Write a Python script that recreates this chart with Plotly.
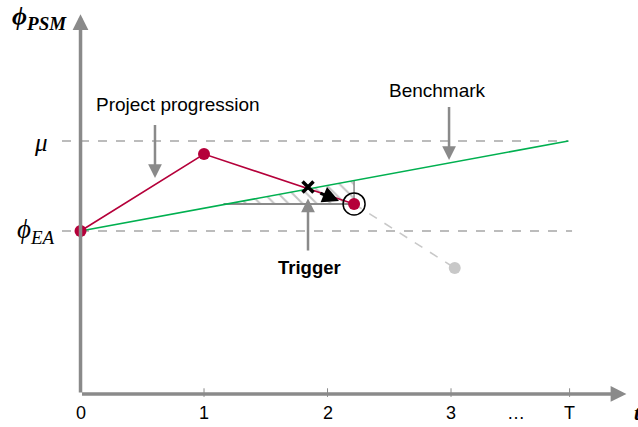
import plotly.graph_objects as go

# ---- data (abstract units: phi_EA = 1) ----
phi_ea = 1.0
mu = 1.552
t_end = 3.95            # position of T on the time axis
progress_t = [0, 1, 2.215]
progress_v = [1.0, 1.472, 1.166]
forecast_t = [2.215, 3.03]
forecast_v = [1.166, 0.773]
bench_t = [0, t_end]
bench_v = [phi_ea, mu]
trigger_t, trigger_v = 1.842, 1.27
tick_vals = [0, 1, 2, 3, 3.53, 3.96]
tick_text = ["0", "1", "2", "3", "…", "T"]

RED = "#b5003a"
GREEN = "#00b050"
GREY = "#8a8a8a"
DGREY = "#a6a6a6"
LGREY = "#c8c8c8"

slope = (mu - phi_ea) / t_end
hx0 = (progress_v[2] - phi_ea) / slope
hx1 = progress_t[2]
hy = progress_v[2]
hy_top = phi_ea + slope * hx1

fig = go.Figure()

# dashed reference lines
fig.add_trace(go.Scatter(x=[-0.15, t_end], y=[mu, mu], mode="lines",
                         line=dict(color=DGREY, width=1.5, dash="dash"), hoverinfo="skip"))
fig.add_trace(go.Scatter(x=[-0.15, 3.98], y=[phi_ea, phi_ea], mode="lines",
                         line=dict(color=DGREY, width=1.5, dash="dash"), hoverinfo="skip"))

# hatched area
fig.add_trace(go.Scatter(x=[hx0, hx1, hx1, hx0], y=[hy, hy, hy_top, hy], mode="lines",
                         fill="toself", fillcolor="rgba(0,0,0,0)",
                         fillpattern=dict(shape="\\", fgcolor=GREY, size=10, solidity=0.2,
                                          bgcolor="rgba(0,0,0,0)"),
                         line=dict(width=0), hoverinfo="skip"))
# horizontal and vertical grey lines of the triangle
fig.add_trace(go.Scatter(x=[hx0 - 0.03, hx1], y=[hy, hy], mode="lines",
                         line=dict(color=GREY, width=2), hoverinfo="skip"))
fig.add_trace(go.Scatter(x=[hx1, hx1], y=[hy, hy_top], mode="lines",
                         line=dict(color=GREY, width=1.5), hoverinfo="skip"))

# forecast (light grey dashed)
fig.add_trace(go.Scatter(x=forecast_t, y=forecast_v, mode="lines",
                         line=dict(color=LGREY, width=1.5, dash="dash"), hoverinfo="skip"))
fig.add_trace(go.Scatter(x=[forecast_t[1]], y=[forecast_v[1]], mode="markers",
                         marker=dict(color=LGREY, size=12), hoverinfo="skip"))

# benchmark
fig.add_trace(go.Scatter(x=bench_t, y=bench_v, mode="lines",
                         line=dict(color=GREEN, width=1.6), hoverinfo="skip"))

# project progression
fig.add_trace(go.Scatter(x=progress_t, y=progress_v, mode="lines+markers",
                         line=dict(color=RED, width=1.6),
                         marker=dict(color=RED, size=12), hoverinfo="skip"))
# ring around last point
fig.add_trace(go.Scatter(x=[progress_t[2]], y=[progress_v[2]], mode="markers",
                         marker=dict(symbol="circle-open", color="black", size=22,
                                     line=dict(width=1.5, color="black")), hoverinfo="skip"))
# trigger cross
fig.add_trace(go.Scatter(x=[trigger_t], y=[trigger_v], mode="markers",
                         marker=dict(symbol="x-thin", size=11, color="black",
                                     line=dict(width=3.5, color="black")), hoverinfo="skip"))

# x-axis tick marks
for v in tick_vals[1:]:
    if v == 3.53:
        continue
    fig.add_trace(go.Scatter(x=[v, v], y=[-0.018, 0.035], mode="lines",
                             line=dict(color=GREY, width=1), hoverinfo="skip"))

ann = []
def arrow(x, y, ax, ay, color=GREY, width=2.5, head=2, size=1.0):
    ann.append(dict(x=x, y=y, ax=ax, ay=ay, xref="x", yref="y", axref="x", ayref="y",
                    showarrow=True, arrowhead=head, arrowsize=size, arrowwidth=width,
                    arrowcolor=color, text=""))

# axes with arrows
arrow(4.42, 0, 0, 0, width=3.5, size=0.9)
arrow(0, 2.33, 0, 0, width=3.5, size=0.9)
# pointer arrows
arrow(0.603, 1.325, 0.603, 1.66, size=1.1)
arrow(2.984, 1.436, 2.984, 1.77, size=1.1)
arrow(1.842, 1.2, 1.842, 0.871, size=1.1)
# black direction arrow
arrow(2.093, 1.184, 1.93, 1.236, color="black", width=3, head=2, size=1.1)

fig.update_layout(annotations=ann)

sans = "Liberation Sans, Arial, sans-serif"
serif = "Liberation Serif, DejaVu Serif, serif"
txt = dict(family=sans, size=19, color="black")
fig.add_annotation(x=0.79, y=1.773, text="Project progression", showarrow=False, font=txt)
fig.add_annotation(x=2.887, y=1.859, text="Benchmark", showarrow=False, font=txt)
fig.add_annotation(x=1.85, y=0.773, text="<b>Trigger</b>", showarrow=False,
                   font=dict(family=sans, size=18.5, color="black"))

for v, s in zip(tick_vals, tick_text):
    fig.add_annotation(x=v, y=-0.115, text=s, showarrow=False,
                       font=dict(family=sans, size=18, color="black"))
fig.add_annotation(x=4.465, y=-0.115, text="t", showarrow=False, xanchor="left",
                   font=dict(family="Liberation Serif, serif", size=22, color="black",
                             weight="bold", style="italic"))

fig.add_annotation(x=-0.32, y=1.545, text="<i>μ</i>", showarrow=False,
                   font=dict(family=serif, size=25, color="black"))
fig.add_annotation(x=-0.36, y=1.0,
                   text="<i>ϕ</i><sub><i><span style='font-size:19px'>EA</span></i></sub>",
                   showarrow=False, font=dict(family=serif, size=27, color="black"))
fig.add_annotation(x=-0.33, y=2.305,
                   text="<b><i>ϕ</i></b><sub><b><i><span style='font-size:19px'>PSM</span></i></b></sub>",
                   showarrow=False, font=dict(family=serif, size=26, color="black"))

fig.update_layout(
    width=638, height=427,
    margin=dict(l=0, r=0, t=0, b=0),
    paper_bgcolor="white", plot_bgcolor="white",
    showlegend=False,
    xaxis=dict(range=[-0.652, 4.514], visible=False, fixedrange=True),
    yaxis=dict(range=[-0.2025, 2.417], visible=False, fixedrange=True),
)

fig.write_html("out.html", config={"displayModeBar": False},
               post_script="document.body.style.margin='0';document.body.style.overflow='hidden';")
